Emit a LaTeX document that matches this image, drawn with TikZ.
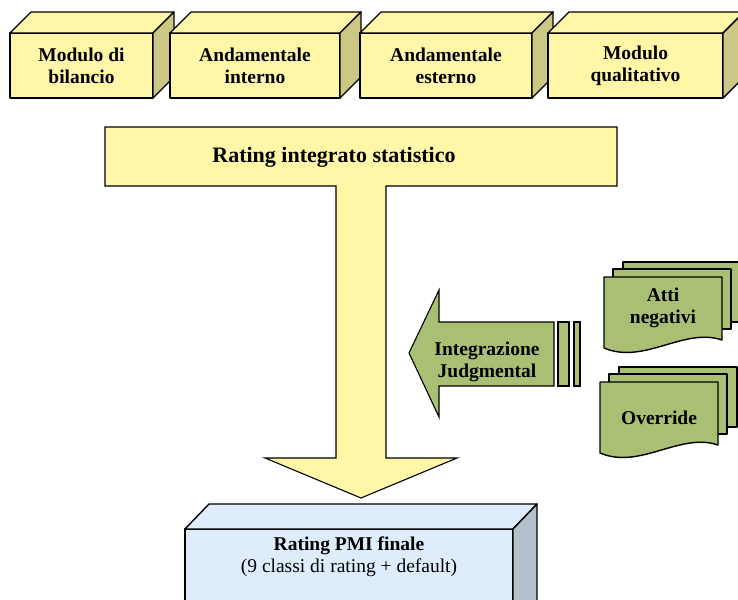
\documentclass[tikz,border=0pt]{standalone}
\usepackage{fontspec}
\setmainfont{Liberation Serif}
\usepackage{xcolor}
\usepackage{tikz}
\usetikzlibrary{positioning}

\definecolor{boxyellow}{HTML}{FFF6A8}
\definecolor{sideyellow}{HTML}{CCC784}
\definecolor{docgreen}{HTML}{A9BF74}
\definecolor{boxblue}{HTML}{DEECFB}
\definecolor{sideblue}{HTML}{B4C0CC}

\tikzset{
    face/.style = {draw, line width=1.4pt, line join=round},
    arrowface/.style = {draw, line width=1.1pt, line join=miter},
    modbox/.style = {face, fill=boxyellow, inner sep=0pt, outer sep=0pt, align=center,
        font=\fontsize{19.5}{22}\selectfont\bfseries},
    boldtext/.style = {align=center, inner sep=0pt, font=\fontsize{19.5}{22}\selectfont\bfseries}
}

\begin{document}
\begin{tikzpicture}[x=1pt, y=-1pt]
    \useasboundingbox (0,0) rectangle (738,599);
    \clip (0,0) rectangle (738,599);

    % moduli
    \foreach \n/\xl/\xr/\txt in {bil/10/153/{Modulo di\\bilancio}, andint/170/340/{Andamentale\\interno},
            andest/360/532/{Andamentale\\esterno}, qual/548/723/{Modulo\\qualitativo}} {
        \node (\n) [modbox, minimum width={(\xr-\xl)*1pt}, minimum height=65pt]
            at ({(\xl+\xr)/2},65.5) {\txt};
        \draw[face, fill=boxyellow] (\n.north west) -- ++(21,-21) -- ++({\xr-\xl},0) -- (\n.north east) -- cycle;
        \draw[face, fill=sideyellow] (\n.north east) -- ++(21,-21) -- ++(0,65) -- (\n.south east) -- cycle;
    }

    % rating statistico
    \draw[arrowface, fill=boxyellow] (105,127) -- (617,127) -- (617,186) -- (386,186) -- (386,458)
        -- (457,458) -- (361,498) -- (265,458) -- (336,458) -- (336,186) -- (105,186) -- cycle;
    \node (stat) [boldtext, font=\fontsize{22}{24}\selectfont\bfseries] at (334,157) {Rating integrato statistico};

    % integrazione judgmental
    \draw[arrowface, fill=docgreen] (409,353) -- (439,290) -- (439,322) -- (554,322) -- (554,386)
        -- (439,386) -- (439,417) -- cycle;
    \draw[arrowface, fill=docgreen] (558,322) rectangle (569,386);
    \draw[arrowface, fill=docgreen] (574,322) rectangle (580,386);
    \node (integ) [boldtext] at (487,362) {Integrazione\\Judgmental};

    % documenti
    \foreach \n/\x/\y/\ty/\txt in {atti/604/277/31/{Atti\\negativi}, over/600/382/36/{Override}} {
        \draw[face, fill=docgreen] (\x+19,\y-15) rectangle ++(118,60);
        \draw[face, fill=docgreen] (\x+9,\y-8) rectangle ++(118,60);
        \draw[face, fill=docgreen] (\x,\y+71) -- (\x,\y) -- ++(118,0) -- ++(0,63)
            .. controls (\x+80,\y+50) and (\x+40,\y+88) .. (\x,\y+71) -- cycle;
        \node (\n) [boldtext] at (\x+59,\y+\ty) {\txt};
    }

    % rating finale
    \draw[face, fill=boxblue] (185,529) rectangle (513,620);
    \draw[face, fill=boxblue] (185,529) -- (209,504) -- (537,504) -- (513,529) -- cycle;
    \draw[face, fill=sideblue] (513,529) -- (537,504) -- (537,620) -- (513,620) -- cycle;
    \node (pmi) [align=center, inner sep=0pt, font=\fontsize{19.5}{22}\selectfont] at (349,557)
        {\textbf{Rating PMI finale}\\(9 classi di rating + default)};
\end{tikzpicture}
\end{document}
